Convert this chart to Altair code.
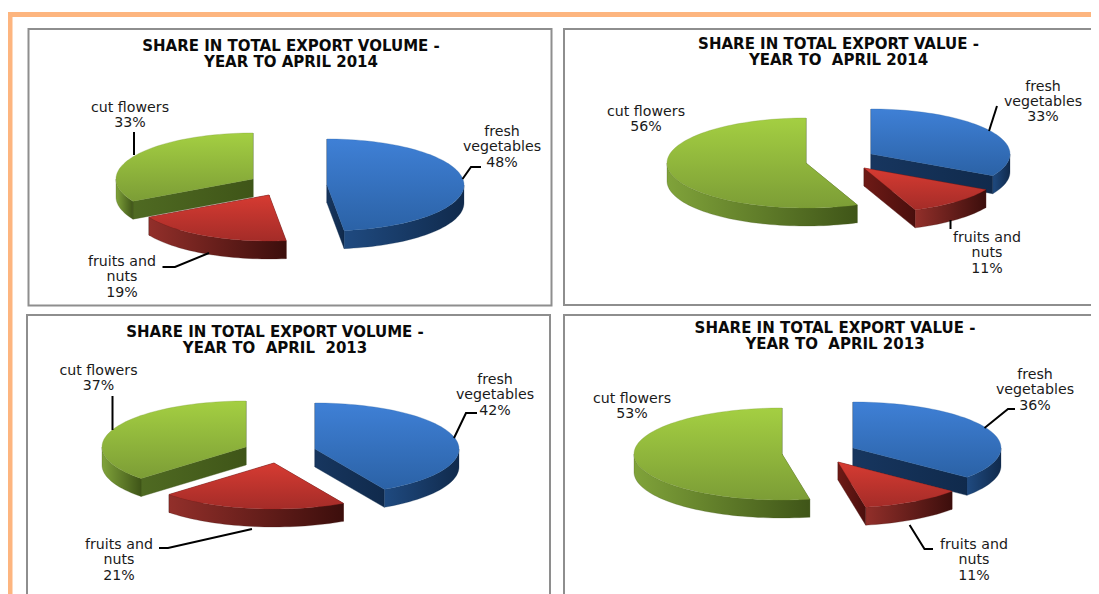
import math
import altair as alt

# ---- values ----
TITLES = [
    ["SHARE IN TOTAL EXPORT VOLUME -", "YEAR TO APRIL 2014"],
    ["SHARE IN TOTAL EXPORT VALUE -", "YEAR TO\u00a0 APRIL 2014"],
    ["SHARE IN TOTAL EXPORT VOLUME -", "YEAR TO\u00a0 APRIL\u00a0 2013"],
    ["SHARE IN TOTAL EXPORT VALUE -", "YEAR TO\u00a0 APRIL 2013"],
]
FRESH_VEGETABLES = [48, 33, 42, 36]
FRUITS_AND_NUTS = [19, 11, 21, 11]
CUT_FLOWERS = [33, 56, 37, 53]

# ---- layout (page pixels) ----
OFF = 8
W, H = 1083, 586
FRAMES = [(28.5, 29, 551.5, 305.5), (564, 29, 1095.5, 305), (27, 315, 550, 640), (564, 315, 1096, 640)]
# radii and depth per panel, and the apex of each exploded slice
GEOM = [
    dict(rx=137, ry=46, d=18, fresh=(327, 185), fruit=(269, 195), cut=(253, 179)),
    dict(rx=139, ry=45, d=18, fresh=(871, 154), fruit=(864, 168), cut=(806, 163)),
    dict(rx=144, ry=46, d=18, fresh=(315, 449), fruit=(274, 463), cut=(246, 447)),
    dict(rx=148, ry=46, d=18, fresh=(853, 448), fruit=(838, 462), cut=(782, 454)),
]
TITLE_POS = [(291, 46, 62), (838.5, 44, 60), (275, 332, 348), (835, 328, 344)]
LABEL_POS = {
    "fresh": [(502, 132), (1043, 86.5), (495, 380), (1035, 375)],
    "fruit": [(122, 262), (987, 238), (119, 545), (974, 545)],
    "cut": [(130, 108), (646, 112), (98.5, 371), (632, 399)],
}
LEADERS = [
    [(134, 132), (134, 155)],
    [(481, 167), (471, 167), (462.5, 179)],
    [(162.5, 267), (175, 267), (209, 253)],
    [(997, 106), (989, 131)],
    [(950.5, 220), (950.5, 229)],
    [(112.5, 396), (112.5, 430)],
    [(477, 413), (466, 413), (454, 438)],
    [(159, 548), (168, 548), (252, 529)],
    [(1015, 409), (1008, 409), (984.5, 428)],
    [(933, 549), (924.5, 549), (909.6, 525)],
]
STYLE = {
    "fresh": dict(top=("#3f80d6", "#2b62a6"), rim=("#1f4a80", "#102a4c"), wall=("#17365f", "#102a4c")),
    "cut": dict(top=("#a4cf42", "#7c9d36"), rim=("#80a33a", "#3f5518"), wall=("#4f6a22", "#3f5518")),
    "fruit": dict(top=("#d63b32", "#a42c28"), rim=("#922f2a", "#3c0e0c"), wall=("#6e1a16", "#4a0f0d")),
}


def pt(c, g, a, dy=0):
    t = math.radians(a)
    return [c[0] + g["rx"] * math.sin(t), c[1] - g["ry"] * math.cos(t) + dy]


def arc(c, g, a0, a1, dy=0):
    n = max(2, int(abs(a1 - a0) / 2) + 1)
    return [pt(c, g, a0 + (a1 - a0) * i / (n - 1), dy) for i in range(n)]


def feature(coords, kind="Polygon"):
    if kind == "Polygon":
        geom = {"type": "Polygon", "coordinates": [coords + [coords[0]]]}
    else:
        geom = {"type": "LineString", "coordinates": coords}
    return {"type": "Feature", "properties": {}, "geometry": geom}


faces = {k: dict(top=[], rim=[], wall=[]) for k in STYLE}
for i, g in enumerate(GEOM):
    start = 0
    for key, share in (("fresh", FRESH_VEGETABLES[i]), ("fruit", FRUITS_AND_NUTS[i]), ("cut", CUT_FLOWERS[i])):
        end = start + share * 3.6
        c = g[key]
        d = g["d"]
        for a in (start, end):
            p = pt(c, g, a)
            faces[key]["wall"].append(feature([list(c), p, [p[0], p[1] + d], [c[0], c[1] + d]]))
        lo, hi = max(start, 90), min(end, 270)
        if hi > lo:
            faces[key]["rim"].append(feature(arc(c, g, lo, hi) + arc(c, g, hi, lo, d)))
        faces[key]["top"].append(feature([list(c)] + arc(c, g, start, end)))
        start = end


def grad(c0, c1, horizontal=False):
    return alt.Gradient(
        gradient="linear",
        x1=0, y1=0,
        x2=1 if horizontal else 0,
        y2=0 if horizontal else 1,
        stops=[alt.GradientStop(color=c0, offset=0), alt.GradientStop(color=c1, offset=1)],
    )


def shapes(features, **mark):
    return (
        alt.Chart(alt.Data(values=features))
        .mark_geoshape(**mark)
        .project(type="identity", scale=1, translate=[-OFF, -OFF])
    )


layers = []

# orange page border and grey panel frames
frame_rows = [dict(x=a - OFF, x2=c - OFF, y=b - OFF, y2=min(d, 640) - OFF) for a, b, c, d in FRAMES]
border_rows = [
    dict(x=7 - OFF, x2=1200, y=12 - OFF, y2=17 - OFF),
    dict(x=7 - OFF, x2=12.5 - OFF, y=12 - OFF, y2=700),
]
base = dict(
    x=alt.X("x:Q", scale=None, axis=None),
    x2="x2:Q",
    y=alt.Y("y:Q", scale=None, axis=None),
    y2="y2:Q",
)
layers.append(alt.Chart(alt.Data(values=border_rows)).mark_rect(fill="#fdb57f").encode(**base))
layers.append(
    alt.Chart(alt.Data(values=frame_rows))
    .mark_rect(fill="#ffffff", stroke="#8e8e8e", strokeWidth=2)
    .encode(**base)
)

# slices, back to front; a faint stroke softens the edges as in the reference
for key in ("fresh", "cut", "fruit"):
    s = STYLE[key]
    layers.append(shapes(faces[key]["wall"], fill=grad(*s["wall"], horizontal=True), stroke=s["wall"][1], strokeWidth=0.8, strokeOpacity=0.5))
    layers.append(shapes(faces[key]["rim"], fill=grad(*s["rim"], horizontal=True), stroke=s["rim"][1], strokeWidth=1, strokeOpacity=0.25))
    layers.append(shapes(faces[key]["top"], fill=grad(*s["top"]), stroke=s["top"][1], strokeWidth=1, strokeOpacity=0.3))

# leader lines
layers.append(
    shapes(
        [feature([list(p) for p in l], "LineString") for l in LEADERS],
        filled=False, stroke="#000000", strokeWidth=2,
    )
)

# texts
title_rows = []
for t, (x, y0, y1) in zip(TITLES, TITLE_POS):
    title_rows.append(dict(x=x - OFF, y=y0 - OFF, t=t[0]))
    title_rows.append(dict(x=x - OFF, y=y1 - OFF, t=t[1]))
label_rows = []
NAMES = {"fresh": ["fresh", "vegetables"], "fruit": ["fruits and", "nuts"], "cut": ["cut flowers"]}
VALS = {"fresh": FRESH_VEGETABLES, "fruit": FRUITS_AND_NUTS, "cut": CUT_FLOWERS}
for key, pos in LABEL_POS.items():
    for i, (x, y) in enumerate(pos):
        lines = NAMES[key] + [f"{VALS[key][i]}%"]
        for j, line in enumerate(lines):
            label_rows.append(dict(x=x - OFF, y=y - OFF + j * 15.4, t=line))

text_enc = dict(
    x=alt.X("x:Q", scale=None, axis=None),
    y=alt.Y("y:Q", scale=None, axis=None),
    text="t:N",
)
layers.append(
    alt.Chart(alt.Data(values=title_rows))
    .mark_text(font="DejaVu Sans", fontWeight="bold", fontSize=15, color="#0a0a0a", align="center", baseline="middle")
    .encode(**text_enc)
)
layers.append(
    alt.Chart(alt.Data(values=label_rows))
    .mark_text(font="DejaVu Sans", fontSize=14.2, color="#1a1a1a", align="center", baseline="middle")
    .encode(**text_enc)
)

chart = (
    alt.layer(*layers)
    .properties(width=W, height=H, padding=0, autosize=alt.AutoSizeParams(type="none"), background="#ffffff")
    .configure_view(stroke=None)
)
chart.save("out.html", embed_options={"renderer": "svg", "actions": False})
